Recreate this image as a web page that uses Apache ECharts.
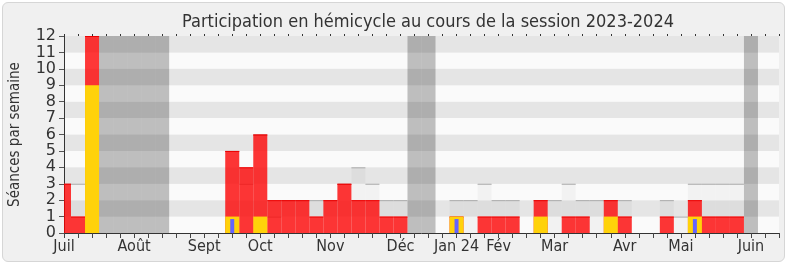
<!DOCTYPE html>
<html><head><meta charset="utf-8">
<script src="https://cdn.jsdelivr.net/npm/echarts@6/dist/echarts.min.js"></script>
<style>
html,body{margin:0;padding:0;background:#fff}
#panel{position:absolute;left:2px;top:2px;width:781px;height:258px;border:1px solid #d6d6d6;border-radius:6px;background:#f0f0f0}
#c{position:absolute;left:0;top:0;width:790px;height:267px}
</style>
</head><body><div id="panel"></div><div id="c"></div>
<script>
// ---- data ----
const weeks = ['2023-07-03','2023-07-10','2023-07-17','2023-07-24','2023-07-31','2023-08-07','2023-08-14','2023-08-21','2023-08-28','2023-09-04','2023-09-11','2023-09-18','2023-09-25','2023-10-02','2023-10-09','2023-10-16','2023-10-23','2023-10-30','2023-11-06','2023-11-13','2023-11-20','2023-11-27','2023-12-04','2023-12-11','2023-12-18','2023-12-25','2024-01-01','2024-01-08','2024-01-15','2024-01-22','2024-01-29','2024-02-05','2024-02-12','2024-02-19','2024-02-26','2024-03-04','2024-03-11','2024-03-18','2024-03-25','2024-04-01','2024-04-08','2024-04-15','2024-04-22','2024-04-29','2024-05-06','2024-05-13','2024-05-20','2024-05-27','2024-06-03','2024-06-10','2024-06-17','2024-06-24'];
const presences =     [3,1,12,0,0,0,0,0,0,0,0,0,5,4,6,2,2,2,1,2,3,2,2,1,1,0,0,0,1,0,1,1,1,0,2,0,1,1,0,2,1,0,0,1,0,2,1,1,1,0,0,0];
const interventions = [0,0,9,0,0,0,0,0,0,0,0,0,1,0,1,0,0,0,0,0,0,0,0,0,0,0,0,0,1,0,0,0,0,0,1,0,0,0,0,1,0,0,0,0,0,1,0,0,0,0,0,0];
const questions =     [0,0,0,0,0,0,0,0,0,0,0,0,0.85,0,0,0,0,0,0,0,0,0,0,0,0,0,0,0,0.85,0,0,0,0,0,0,0,0,0,0,0,0,0,0,0,0,0.85,0,0,0,0,0,0];
const mediane =       [3,3,3,0,0,0,0,0,0,0,0,0,5,3,6,1,2,2,2,2,3,4,3,2,2,0,0,0,2,2,3,2,2,0,2,2,3,2,2,2,2,0,0,2,1,3,3,3,3,0,0,0];
const vacances = [3,4,5,6,7,25,26,49];
const labelWeeks = [0,5,10,14,19,24,28,31,35,40,44,49];
const labelTexts = ['Juil','Août','Sept','Oct','Nov','Déc','Jan 24','Fév','Mar','Avr','Mai','Juin'];
const yTicks = [0,1,2,3,4,5,6,7,8,9,10,11,12];
const title = 'Participation en hémicycle au cours de la session 2023-2024';
const yName = 'Séances par semaine';

// ---- chart ----
const FONT = '"DejaVu Sans Condensed", "DejaVu Sans", sans-serif';
const FONT_Y = '"DejaVu Sans", sans-serif';
const Y_MAX = yTicks[yTicks.length - 1];
const chart = echarts.init(document.getElementById('c'), null, {renderer: 'canvas'});

function blockRenderer(fill, lineColor) {
  return function (params, api) {
    const i = api.value(0), v = api.value(1);
    if (!v) return null;
    const top = api.coord([i, v]);
    const base = api.coord([i, 0]);
    const w = api.size([1, 0])[0];
    const cs = params.coordSys;
    const r = echarts.graphic.clipRectByRect(
      {x: top[0] - w / 2, y: top[1], width: w, height: base[1] - top[1]},
      {x: cs.x, y: cs.y, width: cs.width, height: cs.height});
    if (!r) return null;
    return {
      type: 'group',
      children: [
        {type: 'rect', shape: r, style: {fill: fill}},
        {type: 'line', shape: {x1: r.x, y1: r.y + 0.5, x2: r.x + r.width, y2: r.y + 0.5},
         style: {stroke: lineColor, lineWidth: 1}}
      ]
    };
  };
}

const labelMap = {};
labelWeeks.forEach((w, k) => { labelMap[w] = labelTexts[k]; });

const option = {
  animation: false,
  backgroundColor: 'transparent',
  title: {
    text: title, left: 423, top: 8, textAlign: 'center',
    textStyle: {fontFamily: FONT, fontSize: 18, fontWeight: 'normal', color: '#333'}
  },
  grid: {left: 61, right: 11, top: 36, bottom: 34, containLabel: false},
  xAxis: [
    {
      type: 'category', data: weeks, boundaryGap: false,
      axisLine: {show: true, lineStyle: {color: '#333', width: 1}},
      axisTick: {show: true, interval: 0, length: 5, lineStyle: {color: '#444'}},
      axisLabel: {interval: 0, margin: 6, fontFamily: FONT, fontSize: 16, color: '#333',
        formatter: (val, idx) => labelMap[idx] || ''},
      splitLine: {show: false}
    },
    {type: 'category', data: weeks, boundaryGap: false, show: false},
    {
      type: 'category', data: weeks, boundaryGap: false, position: 'top',
      axisLine: {show: false},
      axisTick: {show: true, interval: 0, length: 2, lineStyle: {color: '#333'}},
      axisLabel: {show: false}, splitLine: {show: false}
    }
  ],
  yAxis: {
    type: 'value', min: 0, max: Y_MAX, interval: 1,
    name: yName, nameLocation: 'middle', nameGap: 41, nameRotate: 90,
    nameTextStyle: {fontFamily: FONT, fontSize: 15, color: '#333'},
    axisLine: {show: true, lineStyle: {color: '#333', width: 1}},
    axisTick: {show: true, length: 5, lineStyle: {color: '#555'}},
    axisLabel: {margin: 8, fontFamily: FONT_Y, fontSize: 16, color: '#333',
      showMinLabel: true, showMaxLabel: true, hideOverlap: false},
    splitLine: {show: false},
    splitArea: {show: true, areaStyle: {color: ['#fafafa', '#e5e5e5']}}
  },
  series: [
    {
      name: 'Vacances', type: 'bar', xAxisIndex: 0, z: 2,
      barWidth: '100%', barGap: '-100%',
      itemStyle: {color: 'rgba(0,0,0,0.24)'},
      data: weeks.map((w, i) => vacances.includes(i) ? Y_MAX : '-')
    },
    {
      name: 'Médiane', type: 'custom', xAxisIndex: 0, z: 3,
      renderItem: blockRenderer('rgba(0,0,0,0.03)', '#aaaaaa'),
      data: mediane.map((v, i) => [i, v])
    },
    {
      name: 'Présences', type: 'custom', xAxisIndex: 0, z: 4,
      renderItem: blockRenderer('rgba(255,0,0,0.78)', 'rgba(235,0,0,0.95)'),
      data: presences.map((v, i) => [i, v])
    },
    {
      name: 'Interventions', type: 'bar', xAxisIndex: 0, z: 5,
      barWidth: '100%', barGap: '-100%',
      itemStyle: {color: '#ffd20a'},
      data: interventions.map(v => v || '-')
    },
    {
      name: 'Questions', type: 'bar', xAxisIndex: 1, z: 6,
      barWidth: 4,
      itemStyle: {color: '#6464ff'},
      data: questions.map(v => v || '-')
    }
  ]
};
chart.setOption(option);
</script>
</body></html>
